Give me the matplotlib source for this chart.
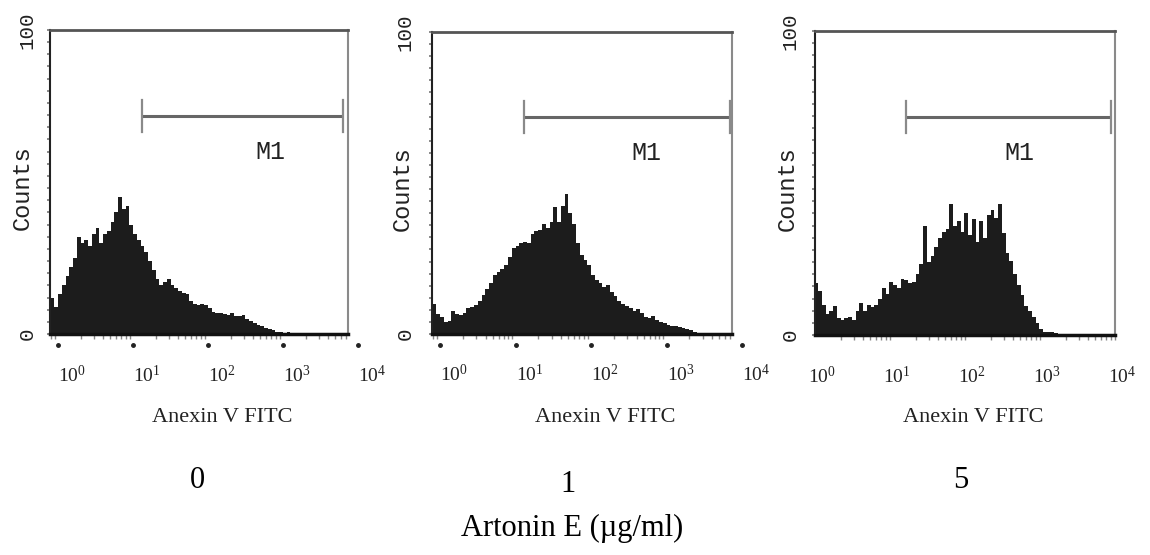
import numpy as np
import matplotlib
matplotlib.use("Agg")
import matplotlib.pyplot as plt
from matplotlib.ticker import LogLocator, NullFormatter, MultipleLocator, NullLocator
from matplotlib.transforms import blended_transform_factory, offset_copy

plt.rcParams["mathtext.fontset"] = "custom"
plt.rcParams["mathtext.rm"] = "Liberation Serif"
plt.rcParams["mathtext.it"] = "Liberation Serif:italic"

# ---------------- data ----------------
concentrations = ["0", "1", "5"]
x_title = "Anexin V FITC"
y_title = "Counts"
group_title = "Artonin E (\u00b5g/ml)"
decade_labels = ["$10^{0}$", "$10^{1}$", "$10^{2}$", "$10^{3}$", "$10^{4}$"]

# histogram bins in log10 units: first edge and bin width
log_bin_start = -0.10
log_bin_width = 0.05

counts_0 = [12, 9, 13, 16, 19, 22, 25, 32, 30, 31, 29, 33, 35, 30, 33, 34, 37, 40, 45,
            41, 42, 36, 33, 31, 29, 27, 24, 21, 18, 16, 17, 18, 16, 15, 14, 13.5, 13, 11,
            10, 9.5, 10, 9.5, 8.5, 7.3, 6.8, 7, 6.5, 6.3, 6.8, 6, 6, 6.2, 4.8, 4.2, 3.6,
            3, 2.5, 2, 1.6, 1.2, 0.8, 0.5, 0.4, 0.7, 0.2]
counts_1 = [10, 6.5, 5.5, 4, 4.2, 7.5, 6.5, 6.2, 7, 8.5, 9, 9.5, 11, 13, 15, 17, 19.5,
            20.5, 21.5, 23, 25.5, 28.5, 29, 30, 30.5, 30, 33, 34, 34.5, 36.5, 35, 37, 42,
            37, 42.5, 46.5, 40, 36.5, 30, 26, 24.5, 23, 19.5, 18, 17, 15.7, 16.2, 14,
            12.5, 10.8, 9.8, 9.3, 8.5, 7.5, 8.3, 7, 5.6, 5.2, 6, 4.8, 4, 3.5, 3.1, 2.8,
            2.5, 2.2, 1.9, 1.6, 1.2, 0.8, 0.3]
counts_5 = [17, 17, 14.5, 10, 7, 8, 9.5, 5.5, 5, 5.5, 6, 5, 8, 10.5, 8, 9.8, 9.3, 10,
            12, 15.5, 13.5, 17.5, 16.5, 15.5, 18.5, 18, 17, 17.5, 20, 23.5, 36, 24, 26,
            29, 32, 34, 35, 43, 36, 37.5, 34, 40, 33, 38, 30.5, 37.5, 32, 39.5, 41, 38.5,
            43, 33.5, 27, 24.5, 20, 16.5, 13, 9.5, 7.8, 6, 4, 2, 1.1, 1.1, 0.9, 0.5]
all_counts = [counts_0, counts_1, counts_5]

# M1 gate (log10 positions) and its height in counts
gate_lo = [1.12, 1.11, 1.17]
gate_hi = [3.80, 3.84, 3.91]
gate_y = [71.7, 71.9, 71.7]
gate_label_x = [2.83, 2.73, 2.69]
gate_label_y = [60, 60, 60]

# ---------------- layout ----------------
W, H = 1150, 555
fig = plt.figure(figsize=(W / 100, H / 100), dpi=100)

def rect(l, r, t, b):
    return [l / W, 1 - b / H, (r - l) / W, (b - t) / H]

panel_rects = [rect(50, 348, 30, 334), rect(432, 732, 32, 334), rect(815, 1115, 31, 335)]
panel_xlims = [(-0.107, 3.867), (-0.107, 3.867), (-0.04, 3.96)]
label_shift_px = [0, 0, -10]
show_dots = [True, True, False]
ylab_x = [-0.077, -0.09, -0.083]
counts_x = [-0.094, -0.10, -0.093]
anexin_x = [222, 605, 973]
conc_pos = [(197, 481), (568, 485), (961, 480)]

mono = "Liberation Mono"
serif = "Liberation Serif"

for i, counts in enumerate(all_counts):
    ax = fig.add_axes(panel_rects[i])
    ax.set_xscale("log")
    lo, hi = panel_xlims[i]
    ax.set_xlim(10 ** lo, 10 ** hi)
    ax.set_ylim(0, 100)

    edges = 10 ** (log_bin_start + log_bin_width * np.arange(len(counts) + 1))
    ax.stairs(counts, edges, fill=True, color="#1c1c1c", baseline=0, zorder=2)

    # gate
    gc = "#666666"
    gx0, gx1 = 10 ** gate_lo[i], 10 ** gate_hi[i]
    ax.plot([gx0, gx1], [gate_y[i], gate_y[i]], color=gc, lw=2.2, solid_capstyle="butt")
    for gx in (gx0, gx1):
        ax.plot([gx, gx], [gate_y[i] - 5.3, gate_y[i] + 5.3], color="#8a8a8a", lw=1.6)
    ax.text(10 ** gate_label_x[i], gate_label_y[i], "M1", family=mono, fontsize=18,
            ha="center", va="center", color="#222222")

    # spines
    ax.spines["top"].set_color("#555555")
    ax.spines["top"].set_linewidth(2)
    ax.spines["right"].set_color("#8a8a8a")
    ax.spines["right"].set_linewidth(1.5)
    ax.spines["left"].set_color("#222222")
    ax.spines["left"].set_linewidth(1.5)
    ax.spines["bottom"].set_color("#111111")
    ax.spines["bottom"].set_linewidth(2.5)

    # ticks
    ax.xaxis.set_major_locator(NullLocator())
    ax.xaxis.set_minor_locator(LogLocator(base=10, subs=np.arange(2, 10) * 1.0, numticks=100))
    ax.xaxis.set_minor_formatter(NullFormatter())
    ax.yaxis.set_major_locator(NullLocator())
    ax.yaxis.set_minor_locator(MultipleLocator(4))
    ax.yaxis.set_minor_formatter(NullFormatter())
    ax.tick_params(axis="x", which="minor", length=3.5, width=1, color="#888888", direction="out")
    ax.tick_params(axis="y", which="minor", length=2.5, width=1.2, color="#777777", direction="out")

    tr = blended_transform_factory(ax.transData, ax.transAxes)
    decades = np.arange(len(decade_labels))
    if show_dots[i]:
        ax.plot(10.0 ** decades, np.full(len(decades), -0.035), ls="none", marker="o", ms=2.5,
                color="#222222", transform=tr, clip_on=False)
    tr_lab = offset_copy(tr, fig=fig, x=label_shift_px[i], y=0, units="dots")
    for d, lab in zip(decades, decade_labels):
        ax.text(10.0 ** d, -0.135, lab, transform=tr_lab, ha="left", va="center",
                fontsize=14, color="#222222")

    # y labels
    ax.text(ylab_x[i], 1.0, "100", transform=ax.transAxes, rotation=90, family=mono,
            fontsize=15, ha="center", va="center", color="#222222")
    ax.text(ylab_x[i], 0.0, "0", transform=ax.transAxes, rotation=90, family=mono,
            fontsize=15, ha="center", va="center", color="#222222")
    ax.text(counts_x[i], 0.48, y_title, transform=ax.transAxes, rotation=90, family=mono,
            fontsize=17, ha="center", va="center", color="#222222")

    fig.text(anexin_x[i] / W, 1 - 418 / H, x_title, family=serif, fontsize=16,
             ha="center", va="center", color="#222222")
    cx, cy = conc_pos[i]
    fig.text(cx / W, 1 - cy / H, concentrations[i], family=serif, fontsize=22,
             ha="center", va="center", color="black")

fig.text(572 / W, 1 - 528 / H, group_title, family=serif, fontsize=22,
         ha="center", va="center", color="black")

fig.savefig("out.png", dpi=100)
